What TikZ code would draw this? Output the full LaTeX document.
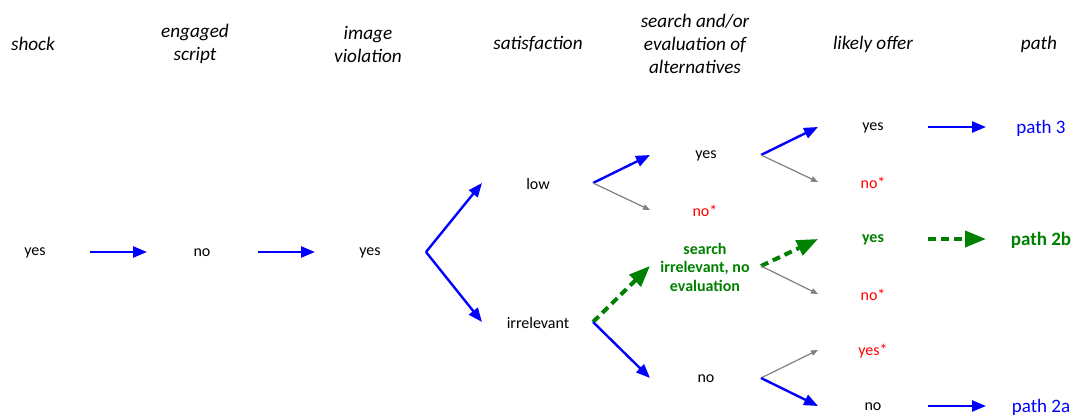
\documentclass[tikz,border=0pt]{standalone}
\usepackage{fontspec}
\setmainfont{Carlito}
\usetikzlibrary{arrows.meta}
\definecolor{pblue}{RGB}{0,0,255}
\definecolor{pgreen}{RGB}{0,128,0}
\definecolor{pred}{RGB}{255,0,0}
\definecolor{pgray}{RGB}{128,128,128}
\begin{document}
\begin{tikzpicture}[x=1pt,y=-1pt,
  hdr/.style={font=\fontsize{19.2}{23}\selectfont\itshape, align=center, inner sep=0pt},
  txt/.style={font=\fontsize{16}{18.5}\selectfont, inner sep=0pt, align=center},
  redtxt/.style={txt, text=pred},
  grntxt/.style={txt, font=\fontsize{16}{18.5}\selectfont\bfseries, text=pgreen},
  pathtxt/.style={font=\fontsize{19}{23}\selectfont, inner sep=0pt},
  barrow/.style={draw=pblue, line width=2.4pt, -{Triangle[length=14pt,width=11pt]}},
  garrow/.style={draw=pgreen, line width=4pt, dash pattern=on 8pt off 5pt, -{Triangle[length=21pt,width=16pt]}},
  grarrow/.style={draw=pgray, line width=1.2pt, -{Triangle[length=7pt,width=5.5pt]}}
]
\useasboundingbox (0,0) rectangle (1080,415);
% headers
\node[hdr] (h1) at (33,44) {shock};
\node[hdr] (h2) at (195,44) {engaged\\script};
\node[hdr] (h3) at (368,44) {image\\violation};
\node[hdr] (h4) at (538,44) {satisfaction};
\node[hdr] (h5) at (695,44) {search and/or\\evaluation of\\alternatives};
\node[hdr] (h6) at (873,44) {likely offer};
\node[hdr] (h7) at (1039,44) {path};
% body
\node[txt] (a1) at (35,253) {yes};
\node[txt] (b1) at (202,253) {no};
\node[txt] (c1) at (370,253) {yes};
\node[txt] (d1) at (538,184) {low};
\node[txt] (d2) at (538,323) {irrelevant};
\node[txt] (e1) at (706,156) {yes};
\node[redtxt] (e2) at (705,211) {no*};
\node[grntxt] (e3) at (705,267) {search\\irrelevant, no\\evaluation};
\node[txt] (e4) at (706,379) {no};
\node[txt] (f1) at (873,128) {yes};
\node[redtxt] (f2) at (873,183) {no*};
\node[grntxt] (f3) at (873,240) {yes};
\node[redtxt] (f4) at (873,295) {no*};
\node[redtxt] (f5) at (873,351) {yes*};
\node[txt] (f6) at (873,407) {no};
\node[pathtxt, text=pblue] (p3) at (1041,128) {path 3};
\node[pathtxt, text=pgreen, font=\fontsize{19}{23}\selectfont\bfseries] (p2b) at (1041,240) {path 2b};
\node[pathtxt, text=pblue] (p2a) at (1041,407) {path 2a};
% connector anchor points
\coordinate (a1o) at (90,252);   \coordinate (b1i) at (147,252);
\coordinate (b1o) at (258,252);  \coordinate (c1i) at (315,252);
\coordinate (c1o) at (426,252);
\coordinate (d1i) at (482,183);  \coordinate (d2i) at (482,322);
\coordinate (d1o) at (593,183);  \coordinate (d2o) at (593,322);
\coordinate (e1i) at (650,155);  \coordinate (e2i) at (650,210);
\coordinate (e3i) at (650,266);  \coordinate (e4i) at (650,378);
\coordinate (e1o) at (761,155);  \coordinate (e3o) at (761,266);
\coordinate (e4o) at (761,378);
\coordinate (f1i) at (818,127);  \coordinate (f2i) at (818,182);
\coordinate (f3i) at (818,239);  \coordinate (f4i) at (818,294);
\coordinate (f5i) at (818,350);  \coordinate (f6i) at (818,406);
\coordinate (f1o) at (928,127);  \coordinate (p3i) at (986,127);
\coordinate (f3o) at (928,239);  \coordinate (p2bi) at (986,239);
\coordinate (f6o) at (928,406);  \coordinate (p2ai) at (986,406);
% connectors
\draw[barrow] (a1o) -- (b1i);
\draw[barrow] (b1o) -- (c1i);
\draw[barrow] (c1o) -- (d1i);
\draw[barrow] (c1o) -- (d2i);
\draw[barrow] (d1o) -- (e1i);
\draw[grarrow] (d1o) -- (e2i);
\draw[garrow] (d2o) -- (e3i);
\draw[barrow] (d2o) -- (e4i);
\draw[barrow] (e1o) -- (f1i);
\draw[grarrow] (e1o) -- (f2i);
\draw[garrow] (e3o) -- (f3i);
\draw[grarrow] (e3o) -- (f4i);
\draw[grarrow] (e4o) -- (f5i);
\draw[barrow] (e4o) -- (f6i);
\draw[barrow] (f1o) -- (p3i);
\draw[garrow] (f3o) -- (p2bi);
\draw[barrow] (f6o) -- (p2ai);
\end{tikzpicture}
\end{document}
